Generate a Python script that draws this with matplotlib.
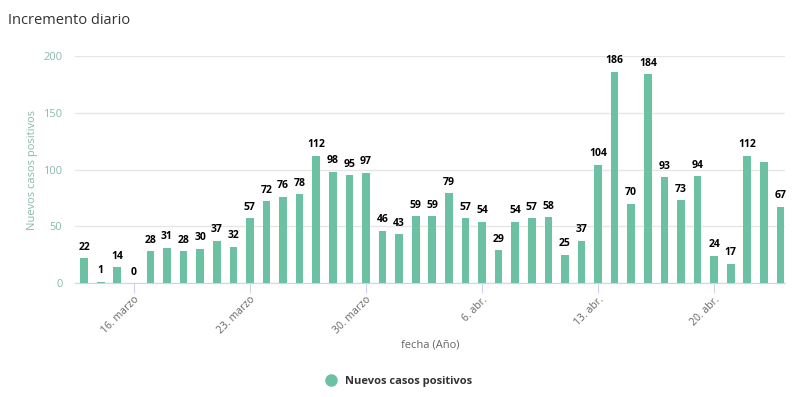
import matplotlib.pyplot as plt
import numpy as np
from matplotlib.lines import Line2D

plt.rcParams['font.family'] = ['Open Sans', 'DejaVu Sans']

# daily new positive cases, 13 march .. 24 april
values = [22, 1, 14, 0, 28, 31, 28, 30, 37, 32,
          57, 72, 76, 78, 112, 98, 95, 97,
          46, 43, 59, 59, 79, 57, 54, 29,
          54, 57, 58, 25, 37, 104, 186, 70,
          184, 93, 73, 94, 24, 17, 112, 107, 67]
hidden_labels = [41]  # label overlaps with its neighbour, not shown
tick_days = [3, 10, 17, 24, 31, 38]
tick_labels = ['16. marzo', '23. marzo', '30. marzo', '6. abr.', '13. abr.', '20. abr.']

bar_color = '#6cc1a3'
axis_text = '#88bba8'

fig = plt.figure(figsize=(7.92, 3.97), dpi=100)
ax = fig.add_axes([0.0947, 0.287, 0.897, 0.572])

x = np.arange(len(values))
bars = ax.bar(x, values, width=0.46, color=bar_color, zorder=3)

for i, (b, v) in enumerate(zip(bars, values)):
    if i in hidden_labels:
        continue
    ax.annotate(str(v), (b.get_x() + b.get_width() / 2, v), xytext=(0, 4),
                textcoords='offset points', ha='center', va='bottom',
                fontsize=7.5, fontweight='bold', color='black')

ax.set_xlim(-0.55, 42.3)
ax.set_ylim(0, 200)
ax.set_yticks([0, 50, 100, 150, 200])
ax.grid(axis='y', color='#e6e6e6', lw=1, zorder=0)
ax.tick_params(axis='y', length=0, labelsize=8, labelcolor=axis_text, pad=9)

ax.set_xticks(tick_days)
ax.set_xticklabels(tick_labels, rotation=45, ha='right', rotation_mode='anchor')
ax.tick_params(axis='x', length=7, color='#ccd6eb', labelsize=7.5,
               labelcolor='#666666', pad=1)

for s in ['top', 'right', 'left']:
    ax.spines[s].set_visible(False)
ax.spines['bottom'].set_color('#ccd6eb')

ax.set_ylabel('Nuevos casos positivos', fontsize=8, color=axis_text, labelpad=4)
ax.set_xlabel('fecha (Año)', fontsize=8, color='#666666', labelpad=2)

fig.text(0.01, 0.948, 'Incremento diario', fontsize=10.5, color='#333333', va='center')

handle = Line2D([], [], marker='o', ls='', markersize=8, color=bar_color)
leg = fig.legend([handle], ['Nuevos casos positivos'], loc='center',
                 bbox_to_anchor=(0.5, 0.04), frameon=False, handletextpad=0.3,
                 prop={'size': 8, 'weight': 'bold'})
for t in leg.get_texts():
    t.set_color('#333333')

plt.savefig('out.png', dpi=100)
plt.close()
